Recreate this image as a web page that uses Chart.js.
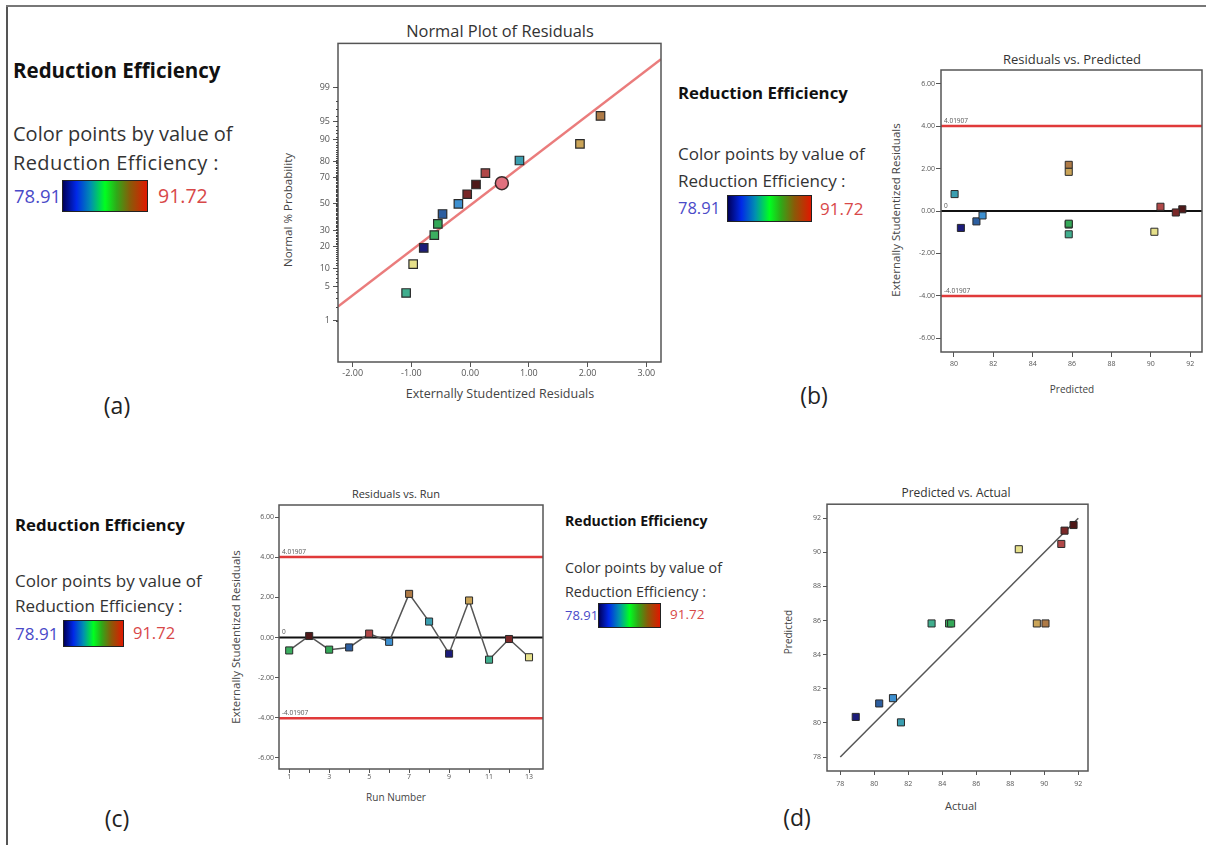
<!DOCTYPE html>
<html>
<head>
<meta charset="utf-8">
<script src="https://cdn.jsdelivr.net/npm/chart.js@4.4.0/dist/chart.umd.min.js"></script>
<style>
  html, body { margin:0; padding:0; background:#fff; }
  body { width:1206px; height:845px; position:relative; overflow:hidden; font-family:'Open Sans', sans-serif; color:#333; }
  .t { position:absolute; white-space:nowrap; line-height:1; transform:translateY(-50%); }
  .c { transform:translate(-50%,-50%); }
  .r { transform:translate(-50%,-50%) rotate(-90deg); }
  .bold { font-weight:700; color:#111; }
  .lo { color:#4a4ac8; }
  .hi { color:#d84848; }
  .grad { position:absolute; border:1px solid #222; box-sizing:border-box;
          background:linear-gradient(to right,#00005a 0%,#0028e8 16%,#0090b0 33%,#00ff20 50%,#30a818 64%,#8a5a08 80%,#e01800 100%); }
  .cv { position:absolute; }
  #frameL { position:absolute; left:6px; top:5px; width:2px; height:840px; background:#555; }
  #frameT { position:absolute; left:6px; top:5px; width:1200px; height:2px; background:#777; }
  .ttl { color:#333; }
  .ax { color:#444; }
</style>
</head>
<body>
<div id="frameL"></div><div id="frameT"></div>

<!-- Legend (a) -->
<div class="t bold" style="left:13px;top:70px;font-size:20.5px;">Reduction Efficiency</div>
<div class="t" style="left:13px;top:134px;font-size:20px;">Color points by value of</div>
<div class="t" style="left:13px;top:163px;font-size:20px;letter-spacing:0.4px;">Reduction Efficiency :</div>
<div class="t lo" style="left:14px;top:196px;font-size:18.5px;">78.91</div>
<div class="grad" style="left:62px;top:180px;width:86px;height:32px;"></div>
<div class="t hi" style="left:158px;top:196px;font-size:19.5px;">91.72</div>

<!-- Legend (b) -->
<div class="t bold" style="left:678px;top:93px;font-size:16.8px;">Reduction Efficiency</div>
<div class="t" style="left:678px;top:153px;font-size:17px;">Color points by value of</div>
<div class="t" style="left:678px;top:180px;font-size:17px;">Reduction Efficiency :</div>
<div class="t lo" style="left:678px;top:208px;font-size:16.5px;">78.91</div>
<div class="grad" style="left:727px;top:195px;width:85px;height:27px;"></div>
<div class="t hi" style="left:820px;top:208px;font-size:17px;">91.72</div>

<!-- Legend (c) left -->
<div class="t bold" style="left:15px;top:525px;font-size:16.8px;">Reduction Efficiency</div>
<div class="t" style="left:15px;top:580px;font-size:17px;">Color points by value of</div>
<div class="t" style="left:15px;top:605px;font-size:17px;">Reduction Efficiency :</div>
<div class="t lo" style="left:15px;top:633px;font-size:17px;">78.91</div>
<div class="grad" style="left:63px;top:620px;width:61px;height:27px;"></div>
<div class="t hi" style="left:133px;top:633px;font-size:16.5px;">91.72</div>

<!-- Legend (c) right -->
<div class="t bold" style="left:565px;top:521px;font-size:14.1px;">Reduction Efficiency</div>
<div class="t" style="left:565px;top:568px;font-size:14.3px;">Color points by value of</div>
<div class="t" style="left:565px;top:592px;font-size:14.3px;">Reduction Efficiency :</div>
<div class="t lo" style="left:565px;top:615px;font-size:13px;">78.91</div>
<div class="grad" style="left:598px;top:603px;width:63px;height:25px;"></div>
<div class="t hi" style="left:670px;top:615px;font-size:13.5px;">91.72</div>

<!-- Panel letters -->
<div class="t c" style="left:117px;top:405px;font-size:23px;color:#222;">(a)</div>
<div class="t c" style="left:814px;top:395px;font-size:23px;color:#222;">(b)</div>
<div class="t c" style="left:117px;top:818px;font-size:23px;color:#222;">(c)</div>
<div class="t c" style="left:797px;top:817px;font-size:23px;color:#222;">(d)</div>

<!-- Titles -->
<div class="t c ttl" style="left:500px;top:31px;font-size:16.4px;">Normal Plot of Residuals</div>
<div class="t c ttl" style="left:1072px;top:59px;font-size:13px;">Residuals vs. Predicted</div>
<div class="t c ttl" style="left:396px;top:493px;font-size:11px;">Residuals vs. Run</div>
<div class="t c ttl" style="left:956px;top:493px;font-size:12px;">Predicted vs. Actual</div>

<!-- Axis titles -->
<div class="t c ax" style="left:500px;top:394px;font-size:12.5px;">Externally Studentized Residuals</div>
<div class="t r ax" style="left:288px;top:210px;font-size:11.6px;">Normal % Probability</div>
<div class="t c ax" style="left:1072px;top:389px;font-size:10px;">Predicted</div>
<div class="t r ax" style="left:896px;top:210px;font-size:11.5px;">Externally Studentized Residuals</div>
<div class="t c ax" style="left:396px;top:797px;font-size:10px;">Run Number</div>
<div class="t r ax" style="left:236px;top:637px;font-size:11.5px;">Externally Studentized Residuals</div>
<div class="t c ax" style="left:961px;top:805px;font-size:11px;">Actual</div>
<div class="t r ax" style="left:788px;top:632px;font-size:10px;">Predicted</div>

<canvas id="chartA" class="cv" width="366" height="349" style="left:300px;top:35px;"></canvas>
<canvas id="chartB" class="cv" width="300" height="310" style="left:905px;top:62px;"></canvas>
<canvas id="chartC" class="cv" width="302" height="286" style="left:245px;top:499px;"></canvas>
<canvas id="chartD" class="cv" width="296" height="295" style="left:797px;top:498px;"></canvas>

<script>
// ---------------- DATA ----------------
const runs = [1,2,3,4,5,6,7,8,9,10,11,12,13];
const actual = [84.40, 91.72, 84.52, 80.29, 91.00, 81.10, 90.07, 81.57, 78.91, 89.56, 83.37, 91.19, 88.50];
const predicted = [85.83, 91.60, 85.83, 81.14, 90.49, 81.45, 85.83, 80.03, 80.35, 85.83, 85.83, 91.27, 90.18];
const residuals = [-0.64, 0.08, -0.60, -0.49, 0.20, -0.21, 2.18, 0.80, -0.80, 1.85, -1.10, -0.07, -0.98];

const normalResidual = [-1.09, -0.97, -0.79, -0.61, -0.55, -0.47, -0.20, -0.05, 0.10, 0.26, 0.84, 1.87, 2.22];
const normalProbability = [3.8, 11.5, 19.0, 26.7, 34.5, 42.0, 50.0, 57.6, 65.0, 73.0, 80.6, 88.4, 96.0];
const normalRunOrder = [11, 13, 9, 1, 3, 4, 6, 12, 2, 5, 8, 10, 7];
const normalLineResidual = [-2.25, 3.25];
const normalLineProbability = [2.04, 99.80];
const highlightResidual = [0.54];
const highlightProbability = [66.0];

const outlierLimit = 4.01907;
const zeroLevel = 0;
const fitLine = [78, 92];

// tick labels
const normalXTicks = [-2, -1, 0, 1, 2, 3];
const probabilityTicks = [1, 5, 10, 20, 30, 50, 70, 80, 90, 95, 99];
const probabilityMinorTicks = Array.from({length: 99}, (_, i) => i + 1);
const residualTicks = [-6, -4, -2, 0, 2, 4, 6];
const predictedTicks = [80, 82, 84, 86, 88, 90, 92];
const runTicks = runs;
const actualTicks = [78, 80, 82, 84, 86, 88, 90, 92];
const predictedTicksD = [78, 80, 82, 84, 86, 88, 90, 92];

// ---------------- STYLE ----------------
const runColors = ['#3cae60', '#4e1818', '#34a858', '#2c5ea0', '#b04848', '#3e90d0', '#ae7a46',
                   '#3a9eb0', '#1c1c7a', '#caa458', '#40ae8e', '#7a2828', '#e6e08a'];
const edge = '#2a2a2a';

// ---------------- PROBABILITY SCALE ----------------
function probit(p) {
  const a=[-3.969683028665376e+01,2.209460984245205e+02,-2.759285104469687e+02,1.383577518672690e+02,-3.066479806614716e+01,2.506628277459239e+00];
  const b=[-5.447609879822406e+01,1.615858368580409e+02,-1.556989798598866e+02,6.680131188771972e+01,-1.328068155288572e+01];
  const c=[-7.784894002430293e-03,-3.223964580411365e-01,-2.400758277161838e+00,-2.549732539343734e+00,4.374664141464968e+00,2.938163982698783e+00];
  const d=[7.784695709041462e-03,3.224671290700398e-01,2.445134137142996e+00,3.754408661907416e+00];
  const pl = 0.02425, ph = 1 - pl; let q, r;
  if (p < pl) { q = Math.sqrt(-2*Math.log(p)); return (((((c[0]*q+c[1])*q+c[2])*q+c[3])*q+c[4])*q+c[5])/((((d[0]*q+d[1])*q+d[2])*q+d[3])*q+1); }
  if (p <= ph) { q = p - 0.5; r = q*q; return (((((a[0]*r+a[1])*r+a[2])*r+a[3])*r+a[4])*r+a[5])*q/(((((b[0]*r+b[1])*r+b[2])*r+b[3])*r+b[4])*r+1); }
  q = Math.sqrt(-2*Math.log(1-p)); return -(((((c[0]*q+c[1])*q+c[2])*q+c[3])*q+c[4])*q+c[5])/((((d[0]*q+d[1])*q+d[2])*q+d[3])*q+1);
}
class ProbabilityScale extends Chart.LinearScale {
  configure() { super.configure(); this._zMin = probit(this.min/100); this._zMax = probit(this.max/100); }
  getPixelForValue(v) { return this.getPixelForDecimal((probit(v/100) - this._zMin) / (this._zMax - this._zMin)); }
  getValueForPixel(p) { return 50; }
}
ProbabilityScale.id = 'probability';
ProbabilityScale.defaults = Chart.LinearScale.defaults;

// ---------------- PLUGINS ----------------
const framePlugin = { id:'frame', afterDraw(chart, args, o) {
  if (!o || !o.color) return; const a = chart.chartArea, ctx = chart.ctx;
  ctx.save(); ctx.strokeStyle = o.color; ctx.lineWidth = o.width;
  ctx.strokeRect(a.left, a.top, a.right - a.left, a.bottom - a.top); ctx.restore(); } };
const minorTicksPlugin = { id:'minorTicks', afterDraw(chart, args, o) {
  if (!o || !o.values) return; const s = chart.scales[o.axis], ctx = chart.ctx;
  ctx.save(); ctx.strokeStyle = o.color; ctx.lineWidth = 1; ctx.beginPath();
  o.values.forEach(v => { const y = Math.round(s.getPixelForValue(v)) + 0.5; ctx.moveTo(s.right - o.length, y); ctx.lineTo(s.right, y); });
  ctx.stroke(); ctx.restore(); } };
const refLabelPlugin = { id:'refLabels', afterDatasetsDraw(chart, args, o) {
  if (!o || !o.items) return; const ctx = chart.ctx, y = chart.scales.y;
  ctx.save(); ctx.font = o.font; ctx.fillStyle = o.color; ctx.textBaseline = 'bottom';
  o.items.forEach(it => ctx.fillText(it.text, chart.chartArea.left + o.dx, y.getPixelForValue(it.value) - o.dy));
  ctx.restore(); } };

Chart.register(ProbabilityScale, framePlugin, minorTicksPlugin, refLabelPlugin);
Chart.defaults.font.family = "'Open Sans', sans-serif";
Chart.defaults.animation = false;
Chart.defaults.plugins.legend.display = false;
Chart.defaults.plugins.tooltip.enabled = false;

function axis(o) {
  return {
    type: o.type || 'linear', min: o.min, max: o.max, position: o.pos,
    afterFit: o.pos === 'bottom' ? s => { s.height = o.size; } : s => { s.width = o.size; },
    afterBuildTicks: s => { s.ticks = o.ticks.map(v => ({value: v})); },
    ticks: { autoSkip: false, maxRotation: 0, minRotation: 0, padding: o.pad, color: '#555',
             font: { size: o.font }, callback: o.fmt },
    grid: { display: true, drawOnChartArea: false, drawTicks: true, tickLength: o.tl, tickColor: '#555', tickWidth: 1 },
    border: { display: false }
  };
}
function baseOptions(pad, scales, plugins) {
  return { responsive: false, animation: false, layout: { autoPadding: false, padding: pad },
           scales, plugins: Object.assign({ legend:{display:false}, tooltip:{enabled:false} }, plugins) };
}
const xy = (xs, ys) => xs.map((x, i) => ({x, y: ys[i]}));
const hline = (x0, x1, v) => [{x: x0, y: v}, {x: x1, y: v}];
const refItems = [{value: outlierLimit, text: String(outlierLimit)}, {value: -outlierLimit, text: String(-outlierLimit)}, {value: zeroLevel, text: String(zeroLevel)}];

// ---------------- (a) Normal plot ----------------
new Chart(document.getElementById('chartA'), {
  type: 'scatter',
  data: { datasets: [
    { data: xy(highlightResidual, highlightProbability), pointStyle: 'circle', pointRadius: 6.5,
      pointBackgroundColor: '#e0707e', pointBorderColor: '#3a2a2a', pointBorderWidth: 1.5, order: 0 },
    { data: xy(normalResidual, normalProbability), pointStyle: 'rect', pointRadius: 6,
      pointBackgroundColor: normalRunOrder.map(r => runColors[r-1]), pointBorderColor: edge, pointBorderWidth: 1.2, order: 1 },
    { data: xy(normalLineResidual, normalLineProbability), showLine: true, pointRadius: 0,
      borderColor: 'rgba(232,110,110,0.9)', borderWidth: 2.5, order: 5 }
  ]},
  options: baseOptions({top: 8, right: 5, left: 0, bottom: 0}, {
    x: axis({min: -2.25, max: 3.25, pos: 'bottom', size: 22, ticks: normalXTicks, pad: 1, tl: 5, font: 9, fmt: v => v.toFixed(2)}),
    y: axis({type: 'probability', min: 0.082, max: 99.93, pos: 'left', size: 38, ticks: probabilityTicks, pad: 3, tl: 5, font: 9, fmt: v => String(v)})
  }, { frame: {color: '#555', width: 1.5}, minorTicks: {axis: 'y', values: probabilityMinorTicks, length: 2, color: '#444'} })
});

// ---------------- (b) Residuals vs Predicted ----------------
const bMin = 79.34, bMax = 92.6;
new Chart(document.getElementById('chartB'), {
  type: 'scatter',
  data: { datasets: [
    { data: xy(predicted, residuals), pointStyle: 'rect', pointRadius: 5,
      pointBackgroundColor: runColors, pointBorderColor: edge, pointBorderWidth: 1, order: 0 },
    { data: hline(bMin, bMax, outlierLimit), showLine: true, pointRadius: 0, borderColor: '#e03a3a', borderWidth: 2.5, order: 5 },
    { data: hline(bMin, bMax, -outlierLimit), showLine: true, pointRadius: 0, borderColor: '#e03a3a', borderWidth: 2.5, order: 5 },
    { data: hline(bMin, bMax, zeroLevel), showLine: true, pointRadius: 0, borderColor: '#111', borderWidth: 2, order: 5 }
  ]},
  options: baseOptions({top: 8, right: 3, left: 0, bottom: 0}, {
    x: axis({min: bMin, max: bMax, pos: 'bottom', size: 20, ticks: predictedTicks, pad: 3, tl: 5, font: 7, fmt: v => String(v)}),
    y: axis({min: -6.66, max: 6.66, pos: 'left', size: 36, ticks: residualTicks, pad: 1, tl: 5, font: 7, fmt: v => v.toFixed(2)})
  }, { frame: {color: '#555', width: 1.5}, refLabels: {items: refItems, font: "6.5px 'Open Sans'", color: '#555', dx: 3, dy: 2} })
});

// ---------------- (c) Residuals vs Run ----------------
const cMin = 0.49, cMax = 13.7;
new Chart(document.getElementById('chartC'), {
  type: 'scatter',
  data: { datasets: [
    { data: xy(runs, residuals), showLine: true, borderColor: '#555', borderWidth: 1.5, pointStyle: 'rect', pointRadius: 5,
      pointBackgroundColor: runColors, pointBorderColor: edge, pointBorderWidth: 1, order: 0 },
    { data: hline(cMin, cMax, outlierLimit), showLine: true, pointRadius: 0, borderColor: '#e03a3a', borderWidth: 2.5, order: 5 },
    { data: hline(cMin, cMax, -outlierLimit), showLine: true, pointRadius: 0, borderColor: '#e03a3a', borderWidth: 2.5, order: 5 },
    { data: hline(cMin, cMax, zeroLevel), showLine: true, pointRadius: 0, borderColor: '#111', borderWidth: 2, order: 5 }
  ]},
  options: baseOptions({top: 6, right: 4, left: 0, bottom: 0}, {
    x: axis({min: cMin, max: cMax, pos: 'bottom', size: 16, ticks: runTicks, pad: 0, tl: 4, font: 7, fmt: v => (v % 2 === 1 ? String(v) : '')}),
    y: axis({min: -6.55, max: 6.61, pos: 'left', size: 34, ticks: residualTicks, pad: 1, tl: 4, font: 7, fmt: v => v.toFixed(2)})
  }, { frame: {color: '#555', width: 1.5}, refLabels: {items: refItems, font: "6.5px 'Open Sans'", color: '#555', dx: 3, dy: 2} })
});

// ---------------- (d) Predicted vs Actual ----------------
new Chart(document.getElementById('chartD'), {
  type: 'scatter',
  data: { datasets: [
    { data: xy(actual, predicted), pointStyle: 'rect', pointRadius: 5,
      pointBackgroundColor: runColors, pointBorderColor: edge, pointBorderWidth: 1, order: 0 },
    { data: xy(fitLine, fitLine), showLine: true, pointRadius: 0, borderColor: '#555', borderWidth: 1.5, order: 5 }
  ]},
  options: baseOptions({top: 6, right: 5, left: 0, bottom: 0}, {
    x: axis({min: 77.22, max: 92.57, pos: 'bottom', size: 22, ticks: actualTicks, pad: 5, tl: 4, font: 7, fmt: v => String(v)}),
    y: axis({min: 77.18, max: 92.82, pos: 'left', size: 30, ticks: predictedTicksD, pad: 2, tl: 4, font: 7, fmt: v => String(v)})
  }, { frame: {color: '#555', width: 1.5} })
});
</script>
</body>
</html>
